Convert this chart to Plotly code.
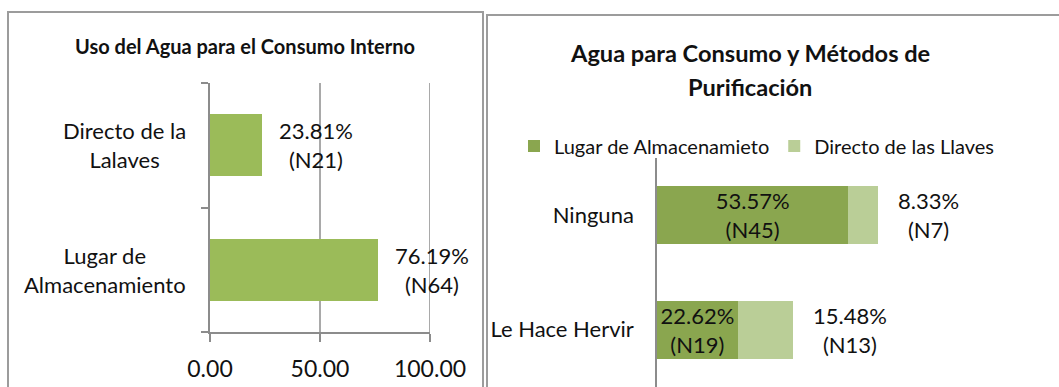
import plotly.graph_objects as go

# ---- data: left panel (water use for internal consumption) ----
uso_categorias = ["Lugar de Almacenamiento", "Directo de la Lalaves"]
uso_etiquetas = ["Lugar de<br>Almacenamiento", "Directo de la<br>Lalaves"]
uso_pct = [76.19, 23.81]
uso_n = [64, 21]
uso_ticks = [0, 50, 100]

# ---- data: right panel (water for drinking and purification methods) ----
metodos = ["Le Hace Hervir", "Ninguna"]
serie_nombres = ["Lugar de Almacenamieto", "Directo de las Llaves"]
almacen_pct = [22.62, 53.57]
almacen_n = [19, 45]
llaves_pct = [15.48, 8.33]
llaves_n = [13, 7]

titulo_izq = "Uso del Agua para el Consumo Interno"
titulo_der = ["Agua para Consumo y Métodos de", "Purificación"]

W, H = 1059, 387
FONT = "Lato"
GRAY = "#8C8C8C"
BORDER = "#9C9C9C"
TEXT = "#111111"


def px(x):
    return x / W


def py(y):
    return 1 - y / H


fig = go.Figure()

# left panel bars
fig.add_trace(go.Bar(
    y=uso_categorias, x=uso_pct, orientation="h",
    marker=dict(color="#9BBB59", line=dict(width=0)),
    width=0.5, xaxis="x", yaxis="y", showlegend=False, hoverinfo="skip",
))

# right panel stacked bars
fig.add_trace(go.Bar(
    y=metodos, x=almacen_pct, orientation="h", name=serie_nombres[0],
    marker=dict(color="#8AA64F", line=dict(width=0)),
    width=0.51, xaxis="x2", yaxis="y2",
    text=[f"{v:.2f}%<br>(N{n})" for v, n in zip(almacen_pct, almacen_n)],
    textposition="inside", insidetextanchor="middle", constraintext="none",
    textfont=dict(family=FONT, size=22, color=TEXT),
    hoverinfo="skip",
))
fig.add_trace(go.Bar(
    y=metodos, x=llaves_pct, orientation="h", name=serie_nombres[1],
    marker=dict(color="#BACE97", line=dict(width=0)),
    width=0.51, xaxis="x2", yaxis="y2", hoverinfo="skip",
))

annotations = []

# centred multi-line category labels for the left panel
for cat, lab in zip(uso_categorias, uso_etiquetas):
    annotations.append(dict(
        x=px(188), xref="paper", y=cat, yref="y", text=lab,
        xanchor="right", yanchor="middle", align="center", showarrow=False,
        font=dict(family=FONT, size=22, color=TEXT),
    ))

# value labels beside the left bars
for cat, v, n in zip(uso_categorias, uso_pct, uso_n):
    annotations.append(dict(
        x=v, xref="x", y=cat, yref="y", text=f"{v:.2f}%<br>(N{n})",
        xanchor="left", yanchor="middle", align="center", xshift=15,
        showarrow=False, font=dict(family=FONT, size=22, color=TEXT),
    ))

# labels for the light segment, placed past the end of each stack
for cat, a, b, n in zip(metodos, almacen_pct, llaves_pct, llaves_n):
    annotations.append(dict(
        x=a + b, xref="x2", y=cat, yref="y2", text=f"{b:.2f}%<br>(N{n})",
        xanchor="left", yanchor="middle", align="center", xshift=18,
        showarrow=False, font=dict(family=FONT, size=22, color=TEXT),
    ))

# titles
annotations.append(dict(
    x=px(245), y=py(46), xref="paper", yref="paper",
    text=f"<b>{titulo_izq}</b>",
    xanchor="center", yanchor="middle", showarrow=False,
    font=dict(family=FONT, size=20, color=TEXT),
))
for linea, ylin in zip(titulo_der, [53, 87]):
    annotations.append(dict(
        x=px(750), y=py(ylin), xref="paper", yref="paper",
        text=f"<b>{linea}</b>",
        xanchor="center", yanchor="middle", showarrow=False,
        font=dict(family=FONT, size=23.6, color=TEXT),
    ))

# panel frames
shapes = [
    dict(type="rect", xref="paper", yref="paper",
         x0=px(8), x1=px(483), y0=-0.2, y1=py(12),
         line=dict(color=BORDER, width=2), fillcolor="rgba(0,0,0,0)", layer="below"),
    dict(type="rect", xref="paper", yref="paper",
         x0=px(487), x1=1.2, y0=-0.2, y1=py(15),
         line=dict(color=BORDER, width=2), fillcolor="rgba(0,0,0,0)", layer="below"),
]
# vertical grid lines of the left panel, including the one on the range edge
for t in uso_ticks[1:]:
    shapes.append(dict(
        type="line", xref="x", yref="y domain", x0=t, x1=t, y0=0, y1=1,
        line=dict(color=GRAY, width=1.5), layer="below",
    ))

fig.update_layout(
    width=W, height=H, autosize=False,
    margin=dict(l=0, r=0, t=0, b=0, autoexpand=False),
    paper_bgcolor="white", plot_bgcolor="white",
    barmode="stack", bargap=0.5,
    font=dict(family=FONT, color=TEXT),
    annotations=annotations, shapes=shapes,
    xaxis=dict(
        domain=[px(210), px(430)], range=[0, 100], anchor="y",
        tickvals=uso_ticks, tickformat=".2f",
        showgrid=False,
        showline=True, linecolor=GRAY, linewidth=1.5,
        ticks="outside", ticklen=8, tickcolor=GRAY, tickwidth=1.5,
        ticklabelstandoff=8,
        tickfont=dict(family=FONT, size=23, color=TEXT),
        zeroline=False, fixedrange=True,
    ),
    yaxis=dict(
        domain=[py(332), py(83)], anchor="x",
        type="category", categoryorder="array", categoryarray=uso_categorias,
        range=[-0.5, 1.5],
        showline=True, linecolor=GRAY, linewidth=1.5,
        ticks="outside", tickson="boundaries", ticklen=7,
        tickcolor=GRAY, tickwidth=1.5,
        showticklabels=False, showgrid=False, fixedrange=True,
    ),
    xaxis2=dict(
        domain=[px(657), px(1014)], range=[0, 100], anchor="y2",
        showgrid=False, showline=False, showticklabels=False, ticks="",
        zeroline=False, fixedrange=True,
    ),
    yaxis2=dict(
        domain=[0, py(158)], anchor="x2",
        type="category", categoryorder="array", categoryarray=metodos,
        range=[-0.5, 1.5],
        showline=True, linecolor=GRAY, linewidth=1.5, ticks="",
        ticklabelstandoff=17,
        tickfont=dict(family=FONT, size=22, color=TEXT),
        showgrid=False, fixedrange=True,
    ),
    legend=dict(
        orientation="h", x=px(514), y=py(146), xanchor="left", yanchor="middle",
        font=dict(family=FONT, size=20, color=TEXT),
        bgcolor="rgba(0,0,0,0)", traceorder="normal",
        itemwidth=30, entrywidthmode="pixels",
    ),
)

fig.write_html("out.html")
